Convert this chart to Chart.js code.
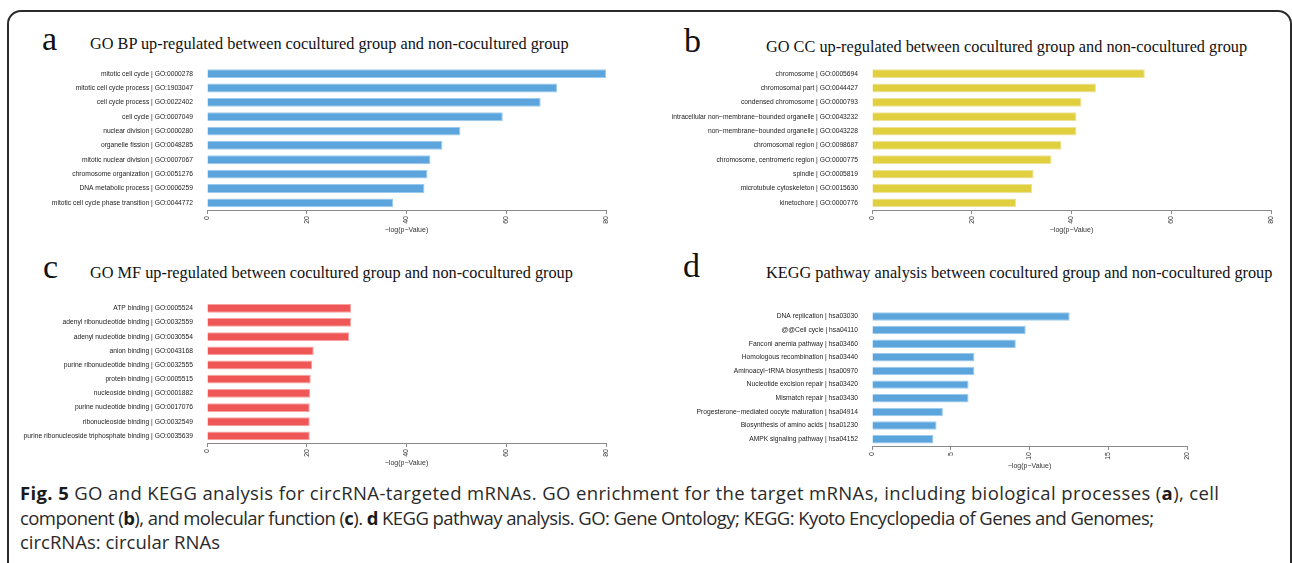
<!DOCTYPE html>
<html>
<head>
<meta charset="utf-8">
<script src="https://cdn.jsdelivr.net/npm/chart.js@4.4.1/dist/chart.umd.min.js"></script>
<style>
  html, body { margin: 0; padding: 0; background: #fff; }
  body { width: 1292px; height: 563px; position: relative; overflow: hidden; }
  .frame { position: absolute; left: 7px; top: 10px; width: 1281px; height: 600px;
           border: 2px solid #2b2b2b; border-radius: 14px; }
  .panel { position: absolute; }
  .letter { position: absolute; font-family: "Liberation Serif", "DejaVu Serif", serif;
            font-size: 34px; line-height: 1; color: #111; }
  .title { position: absolute; font-family: "Liberation Serif", "DejaVu Serif", serif;
           font-size: 16.3px; line-height: 1; color: #111; white-space: nowrap; }
  .caption { position: absolute; left: 20px; top: 481px; font-family: "Open Sans", sans-serif;
             font-size: 18.5px; line-height: 24.5px; color: #2a2a2a; white-space: nowrap;
             letter-spacing: 0px; }
  .caption b { font-weight: 700; color: #1a1a1a; }
</style>
</head>
<body>
<div class="frame"></div>

<div class="letter" style="left:42px; top:22px;">a</div>
<div class="title" style="left:90px; top:36px;">GO BP up-regulated between cocultured group and non-cocultured group</div>
<canvas id="chartA" class="panel" style="left:0px; top:56px;" width="620" height="184"></canvas>

<div class="letter" style="left:684px; top:24px;">b</div>
<div class="title" style="left:766px; top:39px;">GO CC up-regulated between cocultured group and non-cocultured group</div>
<canvas id="chartB" class="panel" style="left:660px; top:56px;" width="625" height="184"></canvas>

<div class="letter" style="left:43px; top:250px;">c</div>
<div class="title" style="left:90px; top:265px;">GO MF up-regulated between cocultured group and non-cocultured group</div>
<canvas id="chartC" class="panel" style="left:0px; top:290px;" width="620" height="183"></canvas>

<div class="letter" style="left:683px; top:249px;">d</div>
<div class="title" style="left:766px; top:265px;">KEGG pathway analysis between cocultured group and non-cocultured group</div>
<canvas id="chartD" class="panel" style="left:660px; top:298px;" width="541" height="178"></canvas>

<div class="caption" id="caption">
<span id="cap1"><b>Fig. 5</b> GO and KEGG analysis for circRNA-targeted mRNAs. GO enrichment for the target mRNAs, including biological processes (<b>a</b>), cell</span><br>
<span id="cap2">component (<b>b</b>), and molecular function (<b>c</b>). <b>d</b> KEGG pathway analysis. GO: Gene Ontology; KEGG: Kyoto Encyclopedia of Genes and Genomes;</span><br>
<span>circRNAs: circular RNAs</span>
</div>

<script>
// --- data ---
const bpTerms = [
  "mitotic cell cycle | GO:0000278",
  "mitotic cell cycle process | GO:1903047",
  "cell cycle process | GO:0022402",
  "cell cycle | GO:0007049",
  "nuclear division | GO:0000280",
  "organelle fission | GO:0048285",
  "mitotic nuclear division | GO:0007067",
  "chromosome organization | GO:0051276",
  "DNA metabolic process | GO:0006259",
  "mitotic cell cycle phase transition | GO:0044772"
];
const bpValues = [80.0, 70.2, 66.9, 59.3, 50.8, 47.2, 44.8, 44.2, 43.6, 37.3];

const ccTerms = [
  "chromosome | GO:0005694",
  "chromosomal part | GO:0044427",
  "condensed chromosome | GO:0000793",
  "intracellular non\u2212membrane\u2212bounded organelle | GO:0043232",
  "non\u2212membrane\u2212bounded organelle | GO:0043228",
  "chromosomal region | GO:0098687",
  "chromosome, centromeric region | GO:0000775",
  "spindle | GO:0005819",
  "microtubule cytoskeleton | GO:0015630",
  "kinetochore | GO:0000776"
];
const ccValues = [54.7, 44.9, 42.0, 41.0, 41.0, 38.0, 36.0, 32.4, 32.1, 28.9];

const mfTerms = [
  "ATP binding | GO:0005524",
  "adenyl ribonucleotide binding | GO:0032559",
  "adenyl nucleotide binding | GO:0030554",
  "anion binding | GO:0043168",
  "purine ribonucleotide binding | GO:0032555",
  "protein binding | GO:0005515",
  "nucleoside binding | GO:0001882",
  "purine nucleotide binding | GO:0017076",
  "ribonucleoside binding | GO:0032549",
  "purine ribonucleoside triphosphate binding | GO:0035639"
];
const mfValues = [28.9, 28.9, 28.5, 21.4, 21.1, 20.8, 20.7, 20.6, 20.6, 20.6];

const keggTerms = [
  "DNA replication | hsa03030",
  "@@Cell cycle | hsa04110",
  "Fanconi anemia pathway | hsa03460",
  "Homologous recombination | hsa03440",
  "Aminoacyl\u2212tRNA biosynthesis | hsa00970",
  "Nucleotide excision repair | hsa03420",
  "Mismatch repair | hsa03430",
  "Progesterone\u2212mediated oocyte maturation | hsa04914",
  "Biosynthesis of amino acids | hsa01230",
  "AMPK signaling pathway | hsa04152"
];
const keggValues = [12.55, 9.76, 9.13, 6.5, 6.5, 6.13, 6.13, 4.5, 4.1, 3.9];

const goTicks = [0, 20, 40, 60, 80];
const keggTicks = [0, 5, 10, 15, 20];
const xTitle = "\u2212log(p\u2212Value)";

const BLUE = "#5ba4dc", YELLOW = "#e0cf3f", RED = "#ee5756";

// stretch caption lines so they end where the printed ones do
function fitLine(id, target) {
  const el = document.getElementById(id);
  const w = el.getBoundingClientRect().width;
  const n = el.textContent.length;
  if (n > 1) el.style.letterSpacing = ((target - w) / (n - 1)) + "px";
}
fitLine("cap1", 1199);
fitLine("cap2", 1134);

function makeChart(id, labels, values, ticks, color, border, opts) {
  const ctx = document.getElementById(id);
  return new Chart(ctx, {
    type: "bar",
    data: {
      labels: labels,
      datasets: [{
        data: values,
        backgroundColor: color,
        borderColor: border,
        borderWidth: 1,
        barPercentage: 0.62,
        categoryPercentage: 1.0
      }]
    },
    options: {
      indexAxis: "y",
      responsive: false,
      animation: false,
      layout: { padding: { top: opts.padTop, right: 14, bottom: 0, left: 0 } },
      plugins: { legend: { display: false }, tooltip: { enabled: false } },
      scales: {
        x: {
          min: ticks[0],
          max: ticks[ticks.length - 1],
          afterBuildTicks: (s) => { s.ticks = ticks.map(v => ({ value: v })); },
          afterFit: (s) => { s.height = 30; },
          border: { display: true, color: "#8a8a8a", width: 1 },
          grid: { drawOnChartArea: false, drawTicks: true, tickLength: 4, color: "#8a8a8a" },
          ticks: {
            minRotation: 90, maxRotation: 90, padding: 2,
            font: { family: "Liberation Sans, Arial, sans-serif", size: 7 },
            color: "#333"
          },
          title: {
            display: true, text: xTitle, color: "#333",
            font: { family: "Liberation Sans, Arial, sans-serif", size: 7 },
            padding: { top: 0, bottom: 6 }
          }
        },
        y: {
          afterFit: (s) => { s.width = opts.yWidth; },
          border: { display: false },
          grid: { display: false },
          ticks: {
            padding: 6,
            font: { family: "Liberation Sans, Arial, sans-serif", size: 6.7 },
            color: "#222"
          }
        }
      }
    }
  });
}

makeChart("chartA", bpTerms, bpValues, goTicks, BLUE, "#9ccaee", { padTop: 10.5, yWidth: 207 });
makeChart("chartB", ccTerms, ccValues, goTicks, YELLOW, "#eee29a", { padTop: 10.5, yWidth: 212 });
makeChart("chartC", mfTerms, mfValues, goTicks, RED, "#f6a3a2", { padTop: 11.2, yWidth: 207 });
makeChart("chartD", keggTerms, keggValues, keggTicks, BLUE, "#9ccaee", { padTop: 11.6, yWidth: 212 });
</script>
</body>
</html>
